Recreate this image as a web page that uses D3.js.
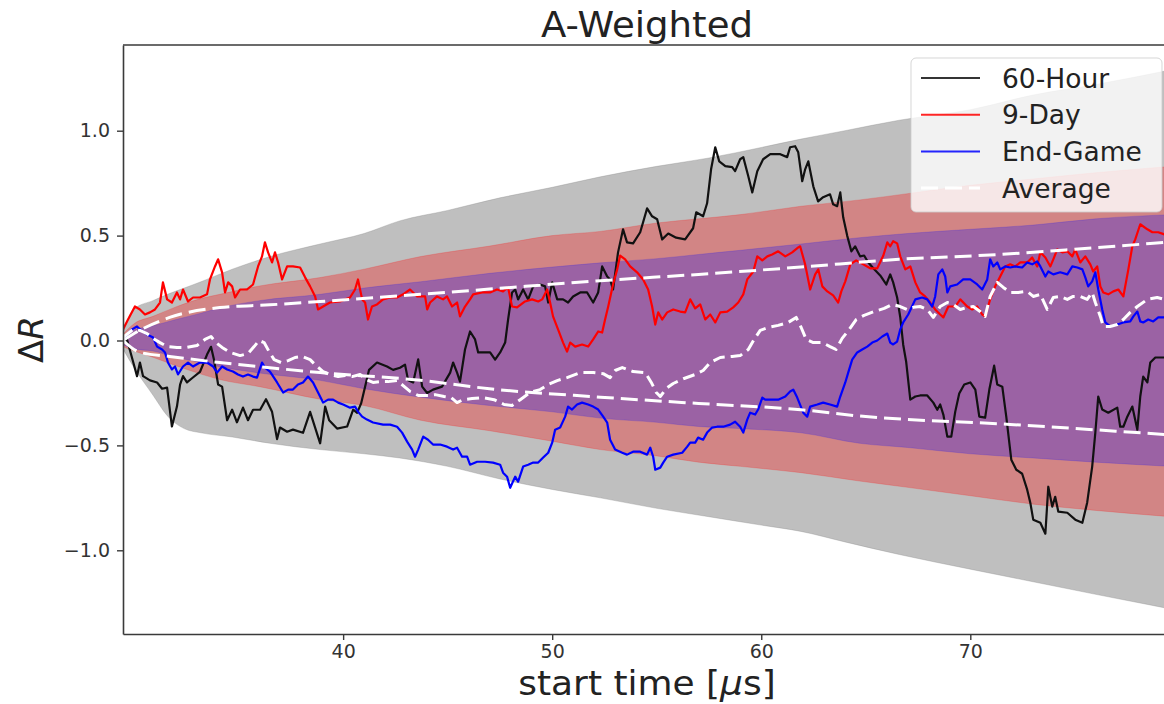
<!DOCTYPE html>
<html>
<head>
<meta charset="utf-8">
<script src="https://cdn.jsdelivr.net/npm/d3@7"></script>
<style>
  html, body { margin: 0; padding: 0; background: #fff; }
  svg { display: block; font-family: "DejaVu Sans", sans-serif; }
</style>
</head>
<body>
<svg id="chart" width="1164" height="704"></svg>
<script>
// ---- labels and ticks ----
const chartTitle = "A-Weighted";
const xTicks = [40, 50, 60, 70];
const yTicks = [-1.0, -0.5, 0.0, 0.5, 1.0];
const xDomain = [29.47, 79.6];
const yDomain = [-1.399, 1.4085];
const legendLabels = ["60-Hour", "9-Day", "End-Game", "Average"];

// ---- spread bands: [start time, lower ΔR, upper ΔR] ----
const bandGray = [
  [29.47,-0.04,0.04],[30.0,-0.13,0.15],[30.9,-0.26,0.19],[31.6,-0.36,0.22],[32.4,-0.42,0.25],[33.2,-0.44,0.28],
  [34.7,-0.46,0.34],[36.5,-0.49,0.40],[38.9,-0.52,0.46],[41.0,-0.54,0.51],[42.7,-0.56,0.57],
  [45.0,-0.60,0.62],[47.5,-0.66,0.68],[50.0,-0.71,0.73],[52.3,-0.75,0.78],[55.0,-0.80,0.83],
  [57.5,-0.84,0.87],[60.0,-0.88,0.92],[61.9,-0.91,0.96],[64.0,-0.96,1.00],[66.6,-1.02,1.05],
  [70.0,-1.09,1.10],[73.0,-1.15,1.17],[76.0,-1.21,1.22],[79.6,-1.28,1.29]
];
const bandRed = [
  [29.47,-0.03,0.03],[30.0,-0.05,0.08],[30.9,-0.08,0.115],[32.0,-0.12,0.16],[33.2,-0.16,0.20],
  [34.1,-0.186,0.22],[36.0,-0.22,0.26],[38.9,-0.28,0.30],[41.0,-0.31,0.34],[43.7,-0.38,0.40],
  [47.0,-0.43,0.45],[50.0,-0.48,0.50],[52.3,-0.52,0.52],[55.0,-0.55,0.56],[57.0,-0.58,0.58],
  [59.0,-0.60,0.60],[61.9,-0.63,0.64],[64.7,-0.67,0.67],[67.0,-0.70,0.70],[70.0,-0.74,0.74],
  [73.0,-0.78,0.77],[76.0,-0.81,0.80],[79.6,-0.84,0.83]
];
const bandBlue = [
  [29.47,-0.02,0.02],[30.0,-0.04,0.05],[30.9,-0.05,0.07],[32.0,-0.08,0.10],[33.2,-0.105,0.13],
  [34.1,-0.125,0.155],[36.0,-0.155,0.19],[38.9,-0.19,0.22],[41.0,-0.23,0.25],[43.7,-0.27,0.28],
  [47.0,-0.31,0.32],[50.0,-0.34,0.35],[52.3,-0.37,0.37],[55.0,-0.39,0.39],[57.0,-0.41,0.41],
  [59.0,-0.42,0.43],[61.9,-0.44,0.46],[64.7,-0.49,0.49],[67.0,-0.51,0.51],[70.0,-0.54,0.53],
  [73.0,-0.56,0.55],[76.0,-0.58,0.58],[79.6,-0.60,0.60]
];

// ---- average envelope: [start time, ΔR] ----
const avgUpper = [
  [29.47,0.0],[30.3,0.05],[31.7,0.11],[34.1,0.157],[36.5,0.17],[38.9,0.186],[43.7,0.22],
  [47.0,0.245],[52.3,0.285],[57.0,0.315],[61.9,0.35],[66.6,0.387],[71.4,0.41],[75.0,0.435],[79.6,0.47]
];
const avgLower = [
  [29.47,0.0],[30.3,-0.057],[31.7,-0.076],[34.1,-0.105],[36.5,-0.13],[38.9,-0.153],[43.7,-0.19],
  [47.0,-0.23],[52.3,-0.27],[57.0,-0.30],[61.9,-0.33],[64.7,-0.36],[71.9,-0.40],[79.6,-0.45]
];

// ---- series: [start time, ΔR] ----
const hour60 = [
  [29.47,0.00],[29.66,0.005],[29.95,-0.10],[30.14,-0.17],[30.28,-0.105],[30.43,-0.17],[30.76,-0.19],[31.10,-0.20],
  [31.34,-0.23],[31.58,-0.225],[31.81,-0.41],[32.05,-0.315],[32.20,-0.21],[32.34,-0.17],[32.53,-0.20],[32.77,-0.18],
  [33.15,-0.15],[33.49,-0.067],[33.68,-0.03],[33.82,-0.09],[34.02,-0.21],[34.21,-0.22],[34.45,-0.38],[34.69,-0.33],
  [34.92,-0.39],[35.21,-0.32],[35.45,-0.38],[35.69,-0.33],[36.03,-0.33],[36.31,-0.28],[36.60,-0.34],[36.84,-0.47],
  [36.98,-0.415],[37.32,-0.435],[37.60,-0.425],[38.08,-0.44],[38.42,-0.34],[38.66,-0.415],[38.90,-0.49],[39.14,-0.315],
  [39.33,-0.38],[39.71,-0.42],[40.19,-0.41],[40.48,-0.33],[40.67,-0.345],[40.86,-0.30],[41.05,-0.22],[41.24,-0.14],
  [41.62,-0.105],[42.10,-0.124],[42.39,-0.14],[42.72,-0.13],[42.96,-0.115],[43.11,-0.19],[43.35,-0.20],[43.59,-0.09],
  [43.78,-0.22],[44.02,-0.25],[44.30,-0.234],[44.73,-0.22],[45.12,-0.153],[45.26,-0.105],[45.45,-0.153],[45.59,-0.196],
  [45.83,-0.043],[46.07,0.043],[46.31,0.005],[46.46,-0.057],[46.70,-0.057],[47.03,-0.057],[47.27,-0.091],[47.51,-0.057],
  [47.75,-0.01],[47.89,0.10],[48.08,0.229],[48.23,0.243],[48.37,0.196],[48.61,0.243],[48.85,0.196],[49.09,0.258],
  [49.42,0.267],[49.66,0.258],[49.81,0.181],[50.00,0.277],[50.24,0.196],[50.52,0.196],[50.76,0.181],[51.00,0.21],
  [51.34,0.229],[51.67,0.229],[51.96,0.181],[52.20,0.229],[52.39,0.353],[52.63,0.305],[52.77,0.291],[52.91,0.243],
  [53.15,0.42],[53.39,0.53],[53.58,0.468],[53.87,0.463],[54.21,0.516],[54.54,0.63],[54.78,0.592],[55.02,0.578],
  [55.26,0.482],[55.55,0.51],[55.93,0.49],[56.36,0.482],[56.74,0.535],[56.89,0.611],[57.22,0.592],[57.41,0.654],
  [57.60,0.816],[57.80,0.921],[57.99,0.854],[58.28,0.831],[58.61,0.826],[58.75,0.807],[58.99,0.864],[59.14,0.874],
  [59.38,0.783],[59.57,0.706],[59.81,0.807],[60.09,0.864],[60.43,0.888],[60.91,0.888],[61.24,0.874],[61.38,0.921],
  [61.62,0.926],[61.77,0.897],[61.96,0.759],[62.10,0.816],[62.25,0.854],[62.49,0.735],[62.72,0.663],[62.96,0.683],
  [63.29,0.697],[63.44,0.649],[63.63,0.64],[63.78,0.706],[63.92,0.587],[64.11,0.50],[64.31,0.425],[64.49,0.449],
  [64.73,0.401],[64.92,0.405],[65.12,0.372],[65.36,0.344],[65.69,0.31],[65.98,0.267],[66.17,0.315],[66.31,0.277],
  [66.50,0.205],[66.65,0.11],[66.79,-0.02],[66.93,-0.10],[67.13,-0.282],[67.37,-0.267],[67.60,-0.262],[67.94,-0.262],
  [68.23,-0.296],[68.42,-0.33],[68.56,-0.305],[68.71,-0.353],[68.90,-0.458],[69.09,-0.458],[69.28,-0.339],[69.47,-0.253],
  [69.71,-0.21],[70.00,-0.20],[70.24,-0.234],[70.43,-0.363],[70.71,-0.368],[70.91,-0.234],[71.14,-0.12],[71.29,-0.21],
  [71.53,-0.22],[71.72,-0.363],[71.96,-0.568],[72.20,-0.616],[72.48,-0.635],[72.72,-0.711],[72.87,-0.773],[73.01,-0.854],
  [73.35,-0.869],[73.59,-0.921],[73.73,-0.697],[73.92,-0.792],[74.06,-0.745],[74.21,-0.816],[74.64,-0.821],[75.02,-0.854],
  [75.36,-0.869],[75.59,-0.773],[75.83,-0.601],[75.98,-0.439],[76.12,-0.267],[76.31,-0.329],[76.60,-0.344],[77.03,-0.32],
  [77.17,-0.411],[77.32,-0.411],[77.51,-0.363],[77.75,-0.315],[77.99,-0.425],[78.13,-0.267],[78.27,-0.172],[78.47,-0.20],
  [78.61,-0.105],[78.85,-0.081],[79.28,-0.081]
];

const day9 = [
  [29.47,0.053],[29.71,0.10],[30.04,0.162],[30.28,0.148],[30.52,0.124],[30.76,0.134],[31.00,0.148],[31.24,0.181],
  [31.38,0.277],[31.58,0.196],[31.81,0.181],[32.05,0.229],[32.20,0.196],[32.34,0.243],[32.58,0.186],[32.82,0.205],
  [33.15,0.205],[33.49,0.22],[33.63,0.291],[33.87,0.353],[34.02,0.387],[34.21,0.325],[34.35,0.229],[34.50,0.277],
  [34.69,0.258],[34.83,0.205],[35.07,0.243],[35.40,0.243],[35.69,0.267],[35.93,0.353],[36.12,0.401],[36.26,0.468],
  [36.41,0.42],[36.60,0.372],[36.74,0.42],[36.89,0.372],[37.08,0.291],[37.32,0.353],[37.60,0.353],[37.94,0.348],
  [38.18,0.301],[38.42,0.258],[38.66,0.21],[38.80,0.148],[39.04,0.162],[39.37,0.181],[39.85,0.186],[40.33,0.205],
  [40.57,0.243],[40.71,0.291],[40.91,0.196],[41.05,0.181],[41.19,0.10],[41.38,0.162],[41.62,0.172],[41.91,0.196],
  [42.25,0.205],[42.58,0.205],[42.87,0.22],[43.20,0.243],[43.54,0.21],[43.92,0.21],[44.02,0.148],[44.16,0.181],
  [44.49,0.21],[44.78,0.196],[44.97,0.21],[45.21,0.162],[45.45,0.181],[45.59,0.115],[45.83,0.162],[46.07,0.196],
  [46.22,0.22],[46.65,0.229],[47.03,0.229],[47.36,0.243],[47.65,0.234],[47.89,0.253],[48.08,0.162],[48.32,0.158],
  [48.70,0.186],[49.04,0.196],[49.33,0.186],[49.52,0.196],[49.76,0.243],[49.90,0.181],[50.04,0.115],[50.28,0.053],
  [50.52,-0.01],[50.71,-0.053],[50.86,-0.01],[51.10,-0.029],[51.43,-0.019],[51.72,-0.029],[51.96,0.005],[52.20,0.043],
  [52.39,0.038],[52.53,0.10],[52.68,0.162],[52.91,0.267],[53.11,0.339],[53.25,0.405],[53.49,0.387],[53.73,0.353],
  [54.06,0.325],[54.35,0.291],[54.59,0.243],[54.78,0.162],[54.93,0.076],[55.07,0.134],[55.26,0.10],[55.50,0.134],
  [55.79,0.148],[56.12,0.138],[56.36,0.134],[56.60,0.196],[56.84,0.153],[57.08,0.172],[57.32,0.10],[57.56,0.124],
  [57.80,0.086],[58.04,0.134],[58.37,0.138],[58.66,0.158],[58.90,0.181],[59.14,0.22],[59.33,0.291],[59.62,0.329],
  [59.81,0.401],[60.05,0.382],[60.29,0.401],[60.52,0.41],[60.81,0.425],[61.15,0.401],[61.48,0.42],[61.77,0.444],
  [61.86,0.449],[62.10,0.363],[62.34,0.243],[62.58,0.315],[62.73,0.339],[62.92,0.258],[63.16,0.234],[63.44,0.215],
  [63.68,0.181],[63.83,0.234],[64.02,0.282],[64.26,0.363],[64.54,0.382],[64.88,0.363],[65.21,0.344],[65.55,0.344],
  [65.84,0.405],[66.03,0.468],[66.17,0.449],[66.31,0.473],[66.50,0.463],[66.65,0.401],[66.89,0.339],[67.13,0.353],
  [67.37,0.277],[67.60,0.229],[67.84,0.21],[68.08,0.181],[68.32,0.148],[68.56,0.124],[68.71,0.11],[68.95,0.162],
  [69.28,0.162],[69.52,0.196],[69.85,0.162],[70.09,0.148],[70.33,0.162],[70.57,0.124],[70.71,0.115],[70.95,0.196],
  [71.19,0.258],[71.43,0.305],[71.67,0.353],[71.91,0.363],[72.15,0.353],[72.39,0.372],[72.72,0.372],[72.96,0.396],
  [73.20,0.353],[73.35,0.42],[73.59,0.396],[73.83,0.353],[73.97,0.387],[74.16,0.434],[74.40,0.42],[74.64,0.425],
  [74.88,0.401],[75.02,0.434],[75.26,0.372],[75.50,0.401],[75.74,0.363],[75.88,0.329],[76.07,0.353],[76.22,0.258],
  [76.36,0.229],[76.60,0.22],[76.84,0.234],[77.08,0.243],[77.32,0.21],[77.56,0.339],[77.75,0.449],[77.89,0.482],
  [78.13,0.554],[78.47,0.53],[78.71,0.516],[78.99,0.516],[79.28,0.506]
];

const endGame = [
  [29.47,0.0],[29.66,0.029],[29.90,0.053],[30.14,0.067],[30.28,0.053],[30.62,0.029],[30.91,0.014],[31.10,-0.029],
  [31.34,-0.043],[31.48,-0.057],[31.62,-0.105],[31.81,-0.138],[31.96,-0.124],[32.10,-0.162],[32.34,-0.124],[32.58,-0.105],
  [32.82,-0.124],[33.15,-0.105],[33.49,-0.105],[33.78,-0.124],[33.97,-0.153],[34.21,-0.124],[34.45,-0.138],[34.73,-0.148],
  [34.97,-0.162],[35.21,-0.172],[35.45,-0.162],[35.69,-0.172],[35.88,-0.177],[36.12,-0.105],[36.26,-0.129],[36.50,-0.148],
  [36.84,-0.20],[37.13,-0.248],[37.37,-0.234],[37.60,-0.234],[37.84,-0.21],[38.08,-0.20],[38.32,-0.172],[38.56,-0.20],
  [38.80,-0.248],[39.04,-0.296],[39.28,-0.282],[39.52,-0.282],[39.76,-0.296],[40.00,-0.305],[40.33,-0.32],[40.57,-0.315],
  [40.71,-0.339],[40.91,-0.363],[41.14,-0.377],[41.43,-0.391],[41.91,-0.401],[42.25,-0.401],[42.58,-0.411],[42.82,-0.439],
  [43.06,-0.482],[43.30,-0.52],[43.44,-0.554],[43.59,-0.52],[43.83,-0.458],[44.06,-0.473],[44.30,-0.496],[44.64,-0.496],
  [44.97,-0.506],[45.26,-0.52],[45.45,-0.511],[45.69,-0.554],[45.93,-0.554],[46.07,-0.592],[46.41,-0.578],[46.79,-0.578],
  [47.17,-0.582],[47.51,-0.592],[47.65,-0.63],[47.84,-0.649],[47.99,-0.702],[48.23,-0.649],[48.37,-0.673],[48.61,-0.601],
  [48.85,-0.592],[49.09,-0.582],[49.33,-0.582],[49.57,-0.558],[49.81,-0.535],[50.00,-0.487],[50.14,-0.425],[50.38,-0.415],
  [50.62,-0.363],[50.76,-0.315],[50.95,-0.329],[51.19,-0.305],[51.43,-0.296],[51.72,-0.305],[51.96,-0.315],[52.20,-0.329],
  [52.44,-0.363],[52.63,-0.391],[52.77,-0.473],[53.01,-0.52],[53.35,-0.535],[53.58,-0.544],[53.87,-0.53],[54.21,-0.53],
  [54.54,-0.544],[54.69,-0.511],[54.83,-0.554],[54.93,-0.616],[55.17,-0.606],[55.31,-0.582],[55.50,-0.554],[55.79,-0.544],
  [56.22,-0.535],[56.46,-0.506],[56.60,-0.487],[56.84,-0.487],[56.98,-0.463],[57.22,-0.473],[57.41,-0.439],[57.65,-0.415],
  [57.89,-0.411],[58.18,-0.411],[58.51,-0.401],[58.75,-0.387],[58.99,-0.411],[59.14,-0.439],[59.33,-0.377],[59.47,-0.344],
  [59.71,-0.353],[59.85,-0.329],[60.05,-0.272],[60.19,-0.282],[60.52,-0.282],[60.81,-0.282],[61.15,-0.267],[61.38,-0.243],
  [61.53,-0.234],[61.72,-0.272],[62.01,-0.344],[62.20,-0.363],[62.34,-0.315],[62.68,-0.305],[62.96,-0.296],[63.29,-0.305],
  [63.63,-0.315],[63.78,-0.267],[64.02,-0.20],[64.16,-0.153],[64.35,-0.091],[64.59,-0.057],[64.83,-0.043],[65.07,-0.029],
  [65.31,-0.01],[65.55,0.0],[65.79,0.019],[66.03,0.033],[66.17,-0.01],[66.31,-0.019],[66.50,-0.005],[66.65,0.053],
  [66.79,0.086],[67.03,0.124],[67.37,0.196],[67.70,0.205],[67.94,0.196],[68.18,0.162],[68.32,0.21],[68.47,0.315],
  [68.66,0.339],[68.80,0.305],[68.90,0.229],[69.04,0.258],[69.37,0.267],[69.66,0.291],[70.00,0.291],[70.33,0.267],
  [70.57,0.243],[70.81,0.291],[70.95,0.387],[71.10,0.353],[71.29,0.372],[71.43,0.339],[71.67,0.353],[71.91,0.348],
  [72.15,0.353],[72.48,0.348],[72.72,0.372],[72.96,0.363],[73.20,0.377],[73.35,0.353],[73.59,0.305],[73.73,0.329],
  [73.97,0.315],[74.30,0.325],[74.64,0.315],[74.88,0.353],[75.12,0.348],[75.36,0.339],[75.50,0.301],[75.64,0.258],
  [75.83,0.282],[75.98,0.325],[76.12,0.243],[76.31,0.148],[76.46,0.086],[76.69,0.067],[77.03,0.076],[77.32,0.086],
  [77.65,0.091],[77.80,0.115],[77.99,0.138],[78.13,0.091],[78.27,0.086],[78.51,0.10],[78.75,0.091],[78.99,0.11],
  [79.28,0.11]
];

const average = [
  [29.47,0.014],[29.95,0.053],[30.28,0.048],[30.62,0.033],[30.91,0.01],[31.24,-0.01],[31.58,-0.029],[32.05,-0.033],
  [32.53,-0.033],[33.01,-0.024],[33.39,0.005],[33.68,0.019],[33.92,-0.01],[34.21,-0.033],[34.59,-0.057],[35.07,-0.072],
  [35.45,-0.062],[35.74,-0.029],[35.98,0.0],[36.22,-0.01],[36.46,-0.053],[36.70,-0.091],[37.03,-0.105],[37.37,-0.096],
  [37.70,-0.081],[38.04,-0.076],[38.42,-0.091],[38.71,-0.12],[39.04,-0.148],[39.37,-0.162],[39.76,-0.172],[40.09,-0.167],
  [40.43,-0.172],[40.81,-0.162],[41.10,-0.186],[41.43,-0.20],[41.77,-0.196],[42.15,-0.196],[42.58,-0.191],[42.87,-0.215],
  [43.20,-0.243],[43.59,-0.262],[44.02,-0.262],[44.40,-0.258],[44.83,-0.267],[45.16,-0.272],[45.45,-0.296],[45.74,-0.282],
  [46.17,-0.277],[46.65,-0.272],[47.22,-0.282],[47.70,-0.305],[48.08,-0.31],[48.47,-0.282],[48.94,-0.248],[49.42,-0.234],
  [49.81,-0.21],[50.24,-0.191],[50.71,-0.177],[51.34,-0.153],[51.96,-0.153],[52.44,-0.158],[52.77,-0.177],[53.01,-0.143],
  [53.35,-0.129],[53.87,-0.148],[54.45,-0.153],[54.74,-0.20],[54.98,-0.248],[55.17,-0.267],[55.45,-0.229],[55.79,-0.205],
  [56.31,-0.181],[56.84,-0.162],[57.22,-0.143],[57.56,-0.105],[58.04,-0.081],[58.61,-0.076],[58.99,-0.072],[59.38,-0.043],
  [59.66,0.005],[59.95,0.048],[60.33,0.062],[60.81,0.072],[61.29,0.086],[61.67,0.11],[61.91,0.062],[62.15,0.005],
  [62.49,-0.01],[62.92,-0.01],[63.29,-0.029],[63.58,-0.043],[63.87,0.01],[64.21,0.053],[64.54,0.10],[64.92,0.12],
  [65.40,0.138],[65.88,0.153],[66.26,0.172],[66.65,0.162],[66.98,0.148],[67.27,0.158],[67.60,0.162],[67.94,0.148],
  [68.23,0.11],[68.56,0.162],[68.90,0.181],[69.18,0.172],[69.52,0.148],[69.85,0.158],[70.14,0.162],[70.47,0.138],
  [70.71,0.115],[70.95,0.21],[71.29,0.277],[71.58,0.253],[71.91,0.229],[72.29,0.229],[72.72,0.234],[73.01,0.21],
  [73.35,0.22],[73.68,0.148],[73.97,0.205],[74.30,0.21],[74.64,0.196],[74.92,0.21],[75.26,0.21],[75.59,0.196],
  [75.83,0.229],[75.98,0.181],[76.22,0.115],[76.36,0.067],[76.69,0.067],[77.03,0.076],[77.32,0.10],[77.65,0.134],
  [77.99,0.162],[78.47,0.196],[78.94,0.205],[79.28,0.196]
];

// ---- layout ----
const svg = d3.select("#chart");
const plot = { left: 123, top: 45, right: 1171, bottom: 634 };

const x = d3.scaleLinear().domain(xDomain).range([plot.left, plot.right]);
const y = d3.scaleLinear().domain(yDomain).range([plot.bottom, plot.top]);

svg.append("defs").append("clipPath").attr("id", "plot-clip")
  .append("rect")
  .attr("x", plot.left).attr("y", plot.top)
  .attr("width", plot.right - plot.left).attr("height", plot.bottom - plot.top);

const area = d3.area()
  .x(d => x(d[0])).y0(d => y(d[1])).y1(d => y(d[2]))
  .curve(d3.curveMonotoneX);

const line = d3.line().x(d => x(d[0])).y(d => y(d[1]));
const smoothLine = d3.line().x(d => x(d[0])).y(d => y(d[1])).curve(d3.curveMonotoneX);

const g = svg.append("g").attr("clip-path", "url(#plot-clip)");

// stacked spread bands: widest first
[
  { data: bandGray, color: "gray", opacity: 0.5 },
  { data: bandRed,  color: "red",  opacity: 0.3 },
  { data: bandBlue, color: "blue", opacity: 0.26 }
].forEach(b => {
  g.append("path")
    .datum(b.data)
    .attr("d", area)
    .attr("fill", b.color)
    .attr("fill-opacity", b.opacity)
    .attr("stroke", b.color)
    .attr("stroke-opacity", b.opacity * 0.6)
    .attr("stroke-width", 1);
});

// individual series
const series = [
  { data: hour60,  color: "#111111" },
  { data: day9,    color: "#ff0000" },
  { data: endGame, color: "#0000ff" }
];
series.forEach(s => {
  g.append("path")
    .datum(s.data)
    .attr("d", line)
    .attr("fill", "none")
    .attr("stroke", s.color)
    .attr("stroke-width", 2.2)
    .attr("stroke-linejoin", "round");
});

// average and its envelope (white dashes)
[avgUpper, avgLower].forEach(d => {
  g.append("path")
    .datum(d)
    .attr("d", smoothLine)
    .attr("fill", "none")
    .attr("stroke", "#ffffff")
    .attr("stroke-width", 3)
    .attr("stroke-dasharray", "17,7");
});
g.append("path")
  .datum(average)
  .attr("d", line)
  .attr("fill", "none")
  .attr("stroke", "#ffffff")
  .attr("stroke-width", 3)
  .attr("stroke-linejoin", "round")
  .attr("stroke-dasharray", "12,6");

// ---- axes ----
const axisColor = "#3a3a3a";
const yAxis = svg.append("g")
  .attr("transform", `translate(${plot.left},0)`)
  .call(d3.axisLeft(y).tickValues(yTicks).tickFormat(d3.format(".1f")).tickSize(6).tickPadding(7).tickSizeOuter(0));
const xAxis = svg.append("g")
  .attr("transform", `translate(0,${plot.bottom})`)
  .call(d3.axisBottom(x).tickValues(xTicks).tickFormat(d3.format("d")).tickSize(6).tickPadding(5).tickSizeOuter(0));

[yAxis, xAxis].forEach(a => {
  a.select(".domain").attr("stroke", axisColor).attr("stroke-width", 1.6);
  a.selectAll(".tick line").attr("stroke", axisColor).attr("stroke-width", 1.4);
  a.selectAll(".tick text")
    .attr("fill", "#333")
    .style("font-family", "'DejaVu Sans', sans-serif")
    .style("font-size", "19px");
});

// top spine
svg.append("line")
  .attr("x1", plot.left).attr("x2", plot.right)
  .attr("y1", plot.top).attr("y2", plot.top)
  .attr("stroke", axisColor).attr("stroke-width", 1.6);

// ---- title and axis labels ----
const midX = (plot.left + plot.right) / 2;
svg.append("text")
  .attr("transform", `translate(${midX},37) scale(1.06,1)`)
  .attr("text-anchor", "middle")
  .attr("fill", "#222")
  .style("font-size", "35px")
  .text(chartTitle);

const xl = svg.append("text")
  .attr("transform", `translate(${midX},695) scale(1.09,1)`)
  .attr("text-anchor", "middle")
  .attr("fill", "#222")
  .style("font-size", "33px");
xl.append("tspan").text("start time [");
xl.append("tspan").attr("font-style", "italic").text("μ");
xl.append("tspan").text("s]");

const yl = svg.append("text")
  .attr("transform", `translate(43,${(plot.top + plot.bottom) / 2}) rotate(-90)`)
  .attr("text-anchor", "middle")
  .attr("fill", "#222")
  .style("font-size", "34px");
yl.append("tspan").text("Δ");
yl.append("tspan").attr("font-style", "italic").text("R");

// ---- legend ----
const legendStyles = [
  { color: "#111111", dash: null, width: 2 },
  { color: "#ff0000", dash: null, width: 2 },
  { color: "#0000ff", dash: null, width: 2 },
  { color: "#ffffff", dash: "17,7", width: 3 }
];
const lg = svg.append("g");
lg.append("rect")
  .attr("x", 911).attr("y", 58).attr("width", 251).attr("height", 154)
  .attr("rx", 5).attr("ry", 5)
  .attr("fill", "#ffffff").attr("fill-opacity", 0.8)
  .attr("stroke", "#cccccc").attr("stroke-opacity", 0.8).attr("stroke-width", 1);

legendLabels.forEach((lab, i) => {
  const cy = 78 + i * 36.7;
  const st = legendStyles[i];
  lg.append("line")
    .attr("x1", 921).attr("x2", 980).attr("y1", cy).attr("y2", cy)
    .attr("stroke", st.color).attr("stroke-width", st.width)
    .attr("stroke-opacity", st.color === "#ffffff" ? 1 : 0.85)
    .attr("stroke-dasharray", st.dash);
  lg.append("text")
    .attr("x", 1002).attr("y", cy + 9.5)
    .attr("fill", "#222")
    .style("font-size", "26.5px")
    .text(lab);
});
</script>
</body>
</html>
